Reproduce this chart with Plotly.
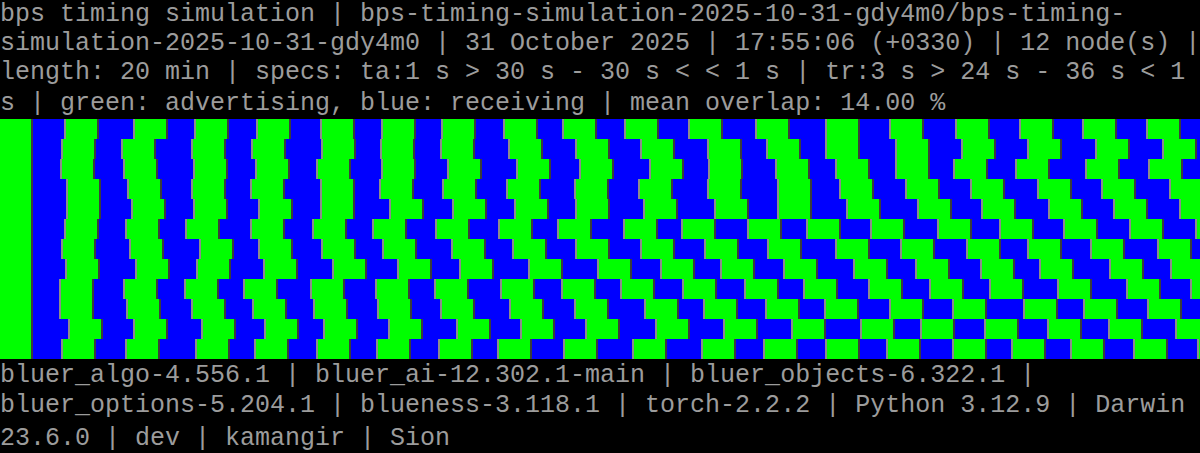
import plotly.graph_objects as go

W, H = 1200, 453
LENGTH_S = 1200  # 20 min

# green (advertising) start times in seconds, one list per node (top to bottom)
node_01 = [0, 66, 135, 196, 258, 322, 383, 443, 505, 564, 626, 690, 757, 827, 891, 957, 1021, 1084, 1148]
node_02 = [0, 63, 123, 193, 253, 323, 382, 442, 510, 577, 642, 709, 768, 827, 897, 963, 1029, 1097, 1164]
node_03 = [0, 62, 125, 195, 257, 318, 383, 449, 518, 581, 651, 710, 777, 837, 897, 955, 1017, 1087, 1150]
node_04 = [0, 68, 129, 193, 252, 322, 381, 444, 508, 576, 640, 709, 779, 841, 907, 972, 1039, 1103, 1171]
node_05 = [0, 68, 133, 195, 260, 322, 391, 454, 516, 577, 645, 716, 779, 848, 919, 983, 1050, 1115, 1181]
node_06 = [0, 66, 127, 187, 252, 314, 374, 437, 500, 559, 625, 683, 749, 808, 872, 939, 1001, 1065, 1131, 1197]
node_07 = [0, 63, 131, 201, 260, 323, 384, 453, 514, 577, 642, 706, 769, 837, 902, 968, 1029, 1092, 1159]
node_08 = [0, 67, 137, 198, 265, 334, 399, 461, 530, 599, 662, 722, 785, 855, 917, 982, 1041, 1111, 1172]
node_09 = [0, 61, 125, 186, 245, 312, 377, 436, 502, 563, 622, 684, 746, 805, 870, 931, 991, 1059, 1128, 1192]
node_10 = [0, 61, 128, 193, 254, 315, 379, 442, 511, 576, 646, 705, 767, 826, 891, 954, 1025, 1085, 1149]
node_11 = [0, 70, 135, 203, 266, 325, 390, 458, 522, 587, 657, 725, 793, 862, 922, 986, 1049, 1110, 1177]
node_12 = [0, 63, 127, 197, 256, 318, 378, 440, 499, 565, 634, 703, 765, 827, 888, 954, 1013, 1072, 1135, 1199]

nodes = [node_01, node_02, node_03, node_04, node_05, node_06,
         node_07, node_08, node_09, node_10, node_11, node_12]

ADVERTISE_S = 30.7   # measured green width
PRE_S = 1.3          # light marker before advertising
POST_S = 2.7         # dark marker after advertising

top_lines = [
    "bps timing simulation | bps-timing-simulation-2025-10-31-gdy4m0/bps-timing-",
    "simulation-2025-10-31-gdy4m0 | 31 October 2025 | 17:55:06 (+0330) | 12 node(s) |",
    "length: 20 min | specs: ta:1 s > 30 s - 30 s < < 1 s | tr:3 s > 24 s - 36 s < 1",
    "s | green: advertising, blue: receiving | mean overlap: 14.00 %",
]
bottom_lines = [
    "bluer_algo-4.556.1 | bluer_ai-12.302.1-main | bluer_objects-6.322.1 |",
    "bluer_options-5.204.1 | blueness-3.118.1 | torch-2.2.2 | Python 3.12.9 | Darwin",
    "23.6.0 | dev | kamangir | Sion",
]
top_baselines = [21, 50, 79, 110.5]
bottom_baselines = [381.7, 411.7, 445]

GREEN = "#00ff00"
BLUE = "#0000ff"
LIGHT = "#8c8c8c"
DARK = "#3c3c3c"
TEXT = "#9c9c9c"

fig = go.Figure()

n = len(nodes)
rows = [i + 0.5 for i in range(n)]

# receiving background
fig.add_trace(go.Bar(orientation="h", y=rows, x=[LENGTH_S] * n, base=[0] * n,
                     width=1, marker=dict(color=BLUE, line=dict(width=0)),
                     hoverinfo="skip", showlegend=False))

gy, gx, gb = [], [], []
ly, lx, lb = [], [], []
dy, dx, db = [], [], []
for i, starts in enumerate(nodes):
    for s in starts:
        gy.append(i + 0.5); gx.append(ADVERTISE_S); gb.append(s)
        ly.append(i + 0.5); lx.append(PRE_S); lb.append(s - PRE_S)
        dy.append(i + 0.5); dx.append(POST_S); db.append(s + ADVERTISE_S)

for yy, xx, bb, col in [(gy, gx, gb, GREEN), (ly, lx, lb, LIGHT), (dy, dx, db, DARK)]:
    fig.add_trace(go.Bar(orientation="h", y=yy, x=xx, base=bb, width=1,
                         marker=dict(color=col, line=dict(width=0)),
                         hoverinfo="skip", showlegend=False))

band_top, band_bottom = 119, 359

annotations = []
def esc(t):
    return t.replace("&", "&amp;").replace("<", "&lt;").replace(">", "&gt;")

FS = 25
for txt, bl in list(zip(top_lines, top_baselines)) + list(zip(bottom_lines, bottom_baselines)):
    center = bl - 6.7
    annotations.append(dict(
        text=esc(txt), x=0, y=1 - center / H, xref="paper", yref="paper",
        xanchor="left", yanchor="middle", showarrow=False, align="left",
        borderpad=0, borderwidth=0,
        font=dict(family="Liberation Mono", size=FS, color=TEXT)))

fig.update_layout(
    width=W, height=H, autosize=False,
    margin=dict(l=0, r=0, t=0, b=0, pad=0),
    paper_bgcolor="#000000", plot_bgcolor="#000000",
    barmode="overlay", bargap=0,
    xaxis=dict(range=[0, LENGTH_S], visible=False, fixedrange=True),
    yaxis=dict(range=[n, 0], visible=False, fixedrange=True,
               domain=[(H - band_bottom) / H, (H - band_top) / H]),
    annotations=annotations,
    showlegend=False,
)

fig.write_html("out.html")
